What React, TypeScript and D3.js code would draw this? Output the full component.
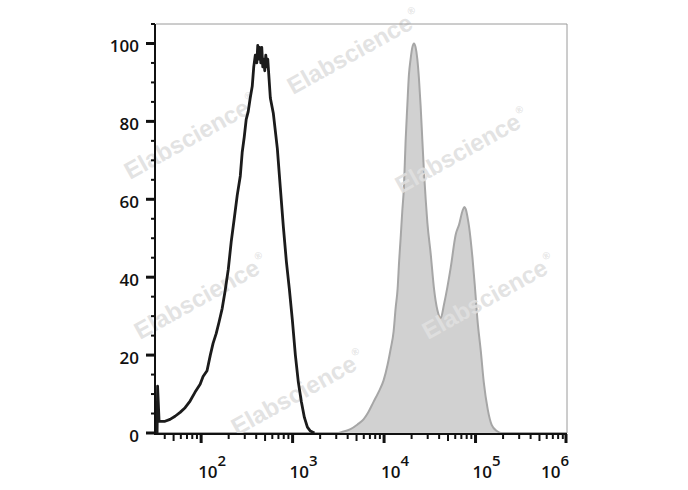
import React from 'react';
import * as d3 from 'd3';

// Unstained / isotype histogram (black outline): fluorescence intensity and % of max
const blackIntensity = [33, 33.4, 34.7, 40.3, 45.7, 51.9, 58.9, 66.8, 75.7, 85.9, 97.5, 105, 116, 126, 135, 146, 157, 170, 183, 198, 213, 230, 248, 268, 281, 296, 311, 327, 344, 362, 376, 391, 406, 416, 426, 437, 449, 460, 472, 484, 496, 509, 522, 535, 549, 571, 616, 681, 734, 792, 855, 921, 994, 1072, 1156, 1247, 1345, 1451, 1565, 1731];
const blackCount = [0, 12, 3, 3, 3.5, 4.3, 5.3, 6.5, 8.2, 10.5, 12.5, 14.5, 16, 20, 23, 25.5, 28.5, 32, 36.5, 42, 49, 55, 61, 66, 72, 76, 80.5, 82.5, 86, 89, 94, 97, 95, 99.5, 96, 99, 95, 99, 94, 96, 93, 97, 94, 96, 92, 86, 82, 73, 63, 53, 44, 37, 29, 20, 13, 8, 4, 1.5, 0.5, 0];

// Stained histogram (grey filled)
const greyIntensity = [3016, 3510, 4295, 5124, 5961, 6596, 7670, 8706, 9880, 10920, 11790, 12710, 13370, 14060, 14600, 15170, 15820, 16480, 17200, 17950, 18700, 19500, 20370, 21220, 22130, 23100, 24060, 25100, 26230, 27310, 28510, 29740, 32340, 35170, 38310, 41620, 45200, 49290, 53560, 60800, 66070, 71950, 75340, 78190, 81620, 84950, 92540, 98110, 105000, 114200, 123100, 136100, 150600, 170900, 189100];
const greyCount = [0, 0.3, 1.0, 2.2, 3.5, 5, 8, 10.5, 13.5, 17.5, 21.5, 26, 32, 37, 44, 50, 57, 63, 75, 84, 92, 96, 99, 100, 99, 96, 91, 84, 75, 67, 60, 54, 46, 37, 31.5, 29.5, 33, 37.5, 42.5, 51, 53.5, 57, 58, 57.5, 55.5, 53, 45, 38, 29, 21, 13, 6, 2, 0.5, 0];

const xDecades = [2, 3, 4, 5, 6];
const yTickValues = [0, 20, 40, 60, 80, 100];
const watermarkText = 'Elabscience';

export default function App() {
  const W = 688, H = 490;
  const left = 156, right = 567, top = 24, bottom = 433;
  const x = d3.scaleLog().domain([32.1, 1e6]).range([left, right]);
  const y = d3.scaleLinear().domain([0, 105]).range([bottom, top]);
  const [xMin, xMax] = x.domain();

  const greyPts: [number, number][] = [[xMin, 0], ...greyIntensity.map((v, i) => [v, greyCount[i]] as [number, number]), [xMax, 0]];
  const area = d3.area<[number, number]>()
    .x(d => x(d[0]))
    .y0(y(0))
    .y1(d => y(d[1]))
    .curve(d3.curveMonotoneX);
  const line = d3.line<[number, number]>()
    .x(d => x(d[0]))
    .y(d => y(d[1]))
    .curve(d3.curveLinear);
  const greyLine = d3.line<[number, number]>()
    .x(d => x(d[0]))
    .y(d => y(d[1]))
    .curve(d3.curveMonotoneX);
  const blackPts: [number, number][] = blackIntensity.map((v, i) => [v, blackCount[i]]);

  const minorX: number[] = [];
  for (let k = 1; k <= 5; k++) {
    for (let m = 2; m <= 9; m++) {
      const v = m * Math.pow(10, k);
      if (v > xMin && v < xMax) minorX.push(v);
    }
  }
  const minorY = d3.range(0, 106, 5).filter(v => v % 20 !== 0);

  const wm: [number, number][] = [[293, 95], [130, 180], [401, 194], [140, 340], [428, 340], [237, 436]];

  const font = "'Open Sans', 'DejaVu Sans', sans-serif";

  return (
    <svg width={W} height={H} style={{ position: 'absolute', left: 0, top: 0, background: '#fff' }}>
      <rect x={0} y={0} width={W} height={H} fill="#fff" />
      {/* grey filled histogram */}
      <path d={area(greyPts) || ''} fill="#d1d1d1" stroke="none" />
      <path d={greyLine(greyPts) || ''} fill="none" stroke="#a6a6a6" strokeWidth={2} />
      {/* watermarks */}
      {wm.map(([wx, wy], i) => (
        <g key={i} transform={`translate(${wx},${wy}) rotate(-29)`}>
          <text fontFamily="'Liberation Sans', Arial, sans-serif" fontWeight="bold" fontSize={24} fill="#e0e0e0" fillOpacity={0.9}>
            {watermarkText}
            <tspan fontSize={10} dy={-13} dx={2}>®</tspan>
          </text>
        </g>
      ))}
      {/* black outline histogram */}
      <path d={line(blackPts) || ''} fill="none" stroke="#1b1b1b" strokeWidth={2.8} strokeLinejoin="round" />

      {/* frame */}
      <line x1={left} x2={right} y1={top} y2={top} stroke="#9a9a9a" strokeWidth={1} />
      <line x1={right} x2={right} y1={top} y2={bottom} stroke="#9a9a9a" strokeWidth={1} />
      {/* axes */}
      <line x1={left - 1} x2={left - 1} y1={top} y2={bottom + 2} stroke="#111" strokeWidth={2} />
      <line x1={left - 2} x2={right} y1={bottom + 1} y2={bottom + 1} stroke="#111" strokeWidth={2} />

      {/* y ticks */}
      {yTickValues.map(v => (
        <g key={'y' + v}>
          <line x1={left - 10} x2={left - 1} y1={y(v)} y2={y(v)} stroke="#111" strokeWidth={3} />
          <text x={139} y={y(v) + 2} textAnchor="end" dominantBaseline="central" fontFamily={font} fontWeight={600} fontSize={17} fill="#111">{v}</text>
        </g>
      ))}
      {minorY.map(v => (
        <line key={'ym' + v} x1={left - 5} x2={left - 1} y1={y(v)} y2={y(v)} stroke="#111" strokeWidth={2} />
      ))}

      {/* x ticks */}
      {minorX.map(v => {
        const m = Math.round(v / Math.pow(10, Math.floor(Math.log10(v) + 1e-9)));
        const len = m === 5 ? 7 : 5;
        return <line key={'xm' + v} x1={x(v)} x2={x(v)} y1={bottom + 1} y2={bottom + 1 + len} stroke="#111" strokeWidth={2} />;
      })}
      {xDecades.map(k => {
        const px = x(Math.pow(10, k));
        const last = k === 6;
        return (
          <g key={'x' + k}>
            <line x1={Math.min(px, right - 1)} x2={Math.min(px, right - 1)} y1={bottom + 1} y2={bottom + 10} stroke="#111" strokeWidth={3} />
            <text x={last ? px + 2 : px - 3} y={478} textAnchor={last ? 'end' : 'start'} fontFamily={font} fontWeight={600} fontSize={17} fill="#111">
              10<tspan dy={-12} fontSize={15}>{k}</tspan>
            </text>
          </g>
        );
      })}
    </svg>
  );
}
